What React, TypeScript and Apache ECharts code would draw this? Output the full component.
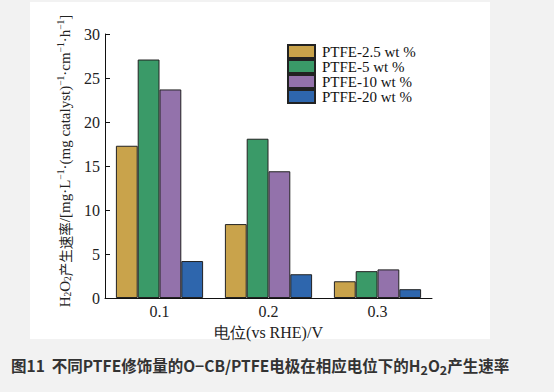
import React, { useEffect, useRef } from "react";
import * as echarts from "echarts";

const categories = ["0.1", "0.2", "0.3"];
const seriesNames = ["PTFE-2.5 wt %", "PTFE-5 wt %", "PTFE-10 wt %", "PTFE-20 wt %"];
const ptfe25 = [17.3, 8.4, 1.9];
const ptfe5 = [27.1, 18.1, 3.05];
const ptfe10 = [23.7, 14.4, 3.25];
const ptfe20 = [4.2, 2.7, 1.0];
const seriesValues = [ptfe25, ptfe5, ptfe10, ptfe20];
const colors = ["#c9a34b", "#3a9a68", "#9372ab", "#2e66ad"];
const yTicks = { min: 0, max: 30, interval: 5 };

const serif = "'Liberation Serif', 'Times New Roman', serif";

export default function App() {
  const ref = useRef<HTMLDivElement>(null);
  useEffect(() => {
    if (!ref.current) return;
    const chart = echarts.init(ref.current, undefined, { renderer: "svg" });
    const rich = {
      n: { fontFamily: serif, fontSize: 15, color: "#222" },
      c: { fontFamily: "'Noto Sans CJK SC', sans-serif", fontSize: 13.5, color: "#222" },
      sub: { fontFamily: serif, fontSize: 9.5, color: "#222", padding: [6, 0, 0, 0] },
      sup: { fontFamily: serif, fontSize: 9.5, color: "#222", padding: [0, 0, 7, 0] },
    };
    chart.setOption({
      animation: false,
      backgroundColor: "#f2f2f2",
      graphic: [
        {
          type: "rect",
          shape: { x: 30, y: 2, width: 460, height: 337 },
          style: { fill: "#ffffff" },
          z: -10,
          silent: true,
        },
        {
          type: "text",
          x: 11,
          y: 365,
          style: {
            text: "{b|图11  不同PTFE修饰量的O−CB/PTFE电极在相应电位下的H}{s|2}{b|O}{s|2}{b|产生速率}",
            verticalAlign: "middle",
            rich: {
              b: { fontFamily: "'Noto Sans CJK SC', sans-serif", fontWeight: "bold", fontSize: 15.5, fill: "#333" },
              s: { fontFamily: "'Noto Sans CJK SC', sans-serif", fontWeight: "bold", fontSize: 12.5, fill: "#333", padding: [8, 0, 0, 0] },
            },
          },
        },
      ],
      grid: { left: 105, right: 122, top: 34, bottom: 94 },
      legend: {
        orient: "vertical",
        left: 282,
        top: 39,
        itemWidth: 27,
        itemHeight: 13,
        itemGap: 0,
        icon: "rect",
        textStyle: { fontFamily: serif, fontSize: 15, color: "#111", padding: [0, 0, 0, 2] },
        data: seriesNames,
      },
      xAxis: {
        type: "category",
        data: categories,
        name: "电位(vs RHE)/V",
        nameLocation: "middle",
        nameGap: 26,
        nameTextStyle: { fontFamily: serif, fontSize: 16, color: "#222" },
        axisLine: { lineStyle: { color: "#111", width: 1 } },
        axisTick: { show: false },
        axisLabel: { fontFamily: serif, fontSize: 16, color: "#222", margin: 5 },
      },
      yAxis: {
        type: "value",
        min: yTicks.min,
        max: yTicks.max,
        interval: yTicks.interval,
        name:
          "{n|H}{sub|2}{n|O}{sub|2}{c|产生速率}{n|/[mg·L}{sup|−1}{n|·(mg catalyst)}{sup|−1}{n|·cm}{sup|−1}{n|·h}{sup|−1}{n|]}",
        nameLocation: "middle",
        nameRotate: 90,
        nameGap: 32,
        nameTextStyle: { rich, padding: [0, 0, 0, 10] },
        axisLine: { show: true, lineStyle: { color: "#111", width: 1 } },
        axisTick: { show: true, inside: true, length: 5, lineStyle: { color: "#111" } },
        splitLine: { show: false },
        axisLabel: { fontFamily: serif, fontSize: 16, color: "#222", margin: 5 },
      },
      series: seriesNames.map((name, i) => ({
        name,
        type: "bar",
        data: seriesValues[i],
        barGap: "0%",
        barCategoryGap: "20%",
        itemStyle: { color: colors[i], borderColor: "#222", borderWidth: 1 },
      })),
    });
    return () => chart.dispose();
  }, []);
  return (
    <div
      ref={ref}
      style={{ position: "fixed", left: 0, top: 0, width: 554, height: 392 }}
    />
  );
}
